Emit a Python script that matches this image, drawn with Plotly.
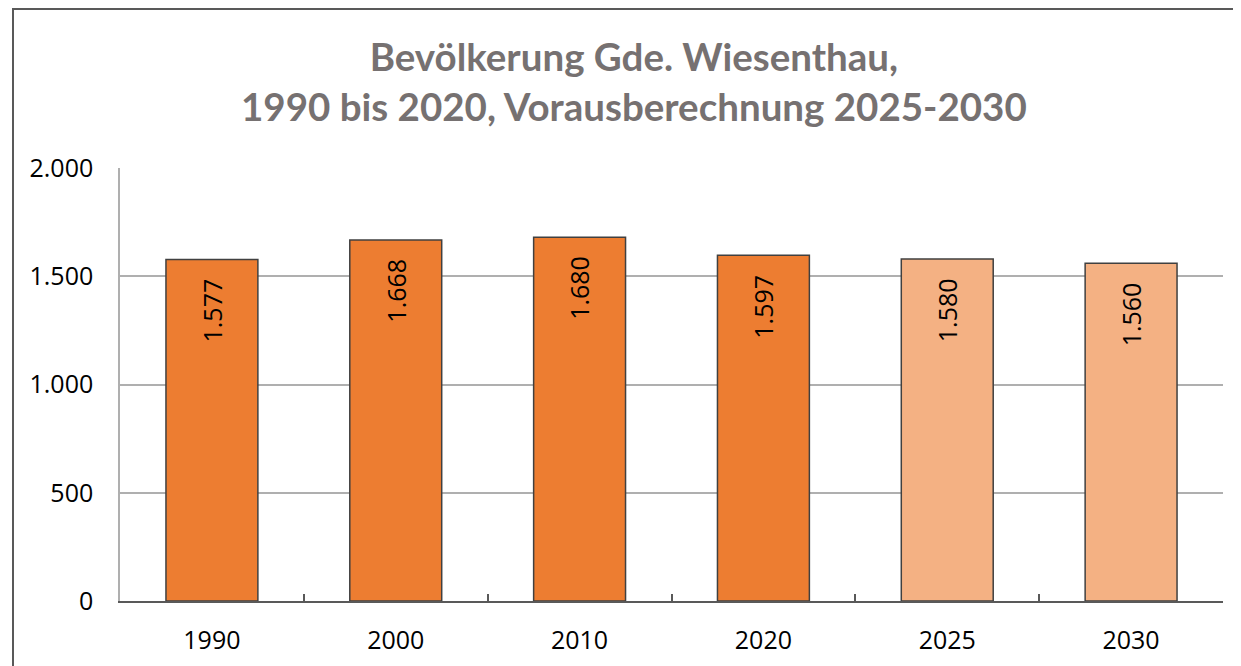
import plotly.graph_objects as go

years = ["1990", "2000", "2010", "2020", "2025", "2030"]
population = [1577, 1668, 1680, 1597, 1580, 1560]
is_projection = [False, False, False, False, True, True]
y_ticks = [0, 500, 1000, 1500, 2000]

title_lines = ["Bevölkerung Gde. Wiesenthau,", "1990 bis 2020, Vorausberechnung 2025-2030"]

C_ACT = "#ED7D31"
C_PROJ = "#F4B183"
TFONT = "Lato"
FONT = "Open Sans"

# page has an 8px body margin; size the figure to fit the 1241x666 window
OFF = 8
W, H = 1241 - OFF, 666 - OFF
L = 120 - OFF
T = 168 - OFF
R = W - (1223 - OFF)
B = H - (601 - OFF)
pw, ph = W - L - R, H - T - B

colors = [C_PROJ if p else C_ACT for p in is_projection]

fig = go.Figure()
fig.add_trace(go.Bar(
    x=years, y=population,
    marker=dict(color=colors, line=dict(color="#404040", width=1.5)),
    width=0.5,
    hoverinfo="x+y",
))

for i, v in enumerate(population):
    fig.add_annotation(
        x=i, y=v, xref="x", yref="y",
        text=f"{v:,}".replace(",", "."),
        textangle=-90, showarrow=False,
        xanchor="center", yanchor="middle", yshift=-51,
        font=dict(family=FONT, size=25, color="#000000"),
    )

fig.add_annotation(
    xref="paper", yref="paper",
    x=(634 - 120) / pw, y=(601 - 81) / ph,
    text="<b>" + title_lines[0] + "</b><br><b>" + title_lines[1] + "</b>",
    showarrow=False, xanchor="center", yanchor="middle",
    font=dict(family=TFONT, size=38.5, color="#767171"),
    align="center",
)

# outer chart frame
fig.add_shape(
    type="rect", xref="paper", yref="paper",
    x0=(13 - 120) / pw, x1=1.2, y0=-0.3, y1=(601 - 9) / ph,
    line=dict(color="#595959", width=2), fillcolor="rgba(0,0,0,0)", layer="below",
)

fig.update_layout(
    width=W, height=H,
    margin=dict(l=L, r=R, t=T, b=B, pad=0, autoexpand=False),
    paper_bgcolor="white", plot_bgcolor="white",
    separators=",.",
    showlegend=False,
    font=dict(family=FONT, size=25, color="#000000"),
)
fig.update_xaxes(
    type="category", range=[-0.5, len(years) - 0.5], automargin=False,
    showline=True, linecolor="#595959", linewidth=2,
    ticks="inside", tickson="boundaries", ticklen=7, tickcolor="#595959", tickwidth=1.5,
    showgrid=False, tickangle=0,
    tickfont=dict(family=FONT, size=25, color="#000000"),
    ticklabelstandoff=16,
)
fig.update_yaxes(
    range=[0, 2000], tickvals=y_ticks, tickformat=",d", automargin=False,
    showgrid=True, gridcolor="#AFAFAF", gridwidth=1.5,
    showline=True, linecolor="#AFAFAF", linewidth=1.5,
    ticks="", zeroline=False,
    tickfont=dict(family=FONT, size=25, color="#000000"),
    ticklabelstandoff=20,
)

fig.write_html("out.html")
